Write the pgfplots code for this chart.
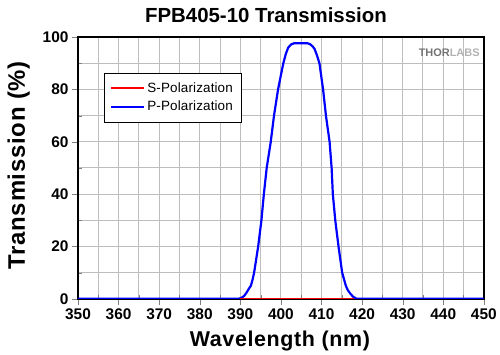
\documentclass[border=0pt]{standalone}
\usepackage{fontspec}
\setmainfont{Liberation Sans}
\newfontfamily\labfont[LetterSpace=3]{Liberation Sans}
\newfontfamily\legfont[LetterSpace=1]{Liberation Sans}
\usepackage{pgfplots}
\pgfplotsset{compat=1.18}
\begin{document}
\begin{tikzpicture}
\begin{axis}[
  scale only axis, width=407.4pt, height=262.7pt,
  at={(0pt,0pt)}, anchor=south west,
  xmin=350, xmax=450, ymin=0, ymax=100,
  xtick={350,360,...,450}, ytick={0,20,...,100},
  minor xtick={355,365,...,445}, minor ytick={10,30,...,90},
  grid=both,
  major grid style={draw=black!26, line width=1pt},
  minor grid style={draw=black!26, line width=1pt},
  xtick pos=left, ytick pos=left,
  tick align=outside, major tick length=6pt, minor tick length=4pt,
  minor x tick style={yshift=4pt}, minor y tick style={xshift=4pt},
  axis line style={line width=2pt},
  /pgf/number format/assume math mode=true,
  ticklabel style={font=\fontsize{15.5}{16}\selectfont\bfseries},
  legend style={at={(rel axis cs:0.063,0.864)}, anchor=north west,
    draw=black, fill=white,
    font=\legfont\fontsize{13.5}{14}\selectfont,
    inner xsep=6.5pt, inner ysep=7.5pt, row sep=3.5pt},
  legend cell align=left,
  legend image post style={xscale=1.94},
]
\addlegendimage{red, line width=2.2pt}
\addlegendentry{S-Polarization}
\addlegendimage{blue, line width=2.2pt}
\addlegendentry{P-Polarization}
\addplot[blue, line width=2.2pt, forget plot] table {
x y
350 0
389.5 0
390 0.2
390.5 0.6
391 1.2
391.5 2.3
392 3.6
392.6 5
393 7.2
393.4 10
393.9 15
394.4 20
394.8 25
395.2 30
395.8 40
396.5 50
397.5 60
398.3 70
399.3 80
400 85.5
400.6 90
401.2 93.5
401.8 96
402.5 97.2
403.3 97.7
406.5 97.7
407.2 97.3
407.8 96.5
408.3 95.5
408.9 93
409.5 90
410.4 80
411.1 70
412 60
412.5 50
412.8 40
413.4 30
414.2 20
415.1 10
416 5
416.5 3.3
417.1 2
417.8 0.8
418.7 0
450 0
};
\addplot[red, line width=2.2pt, forget plot] table {
x y
390 0
418 0
};
\end{axis}
\node[font=\fontsize{20.5}{21}\selectfont\bfseries, anchor=base] at (188.7pt,277.3pt) {FPB405-10 Transmission};
\node[font=\labfont\fontsize{21.5}{22}\selectfont\bfseries, anchor=base] at (202.7pt,-48.3pt) {Wavelength (nm)};
\node[font=\labfont\fontsize{24}{24}\selectfont\bfseries, anchor=base, rotate=90] at (-53.3pt,134pt) {Transmission (\%)};
\node[font=\fontsize{11}{11}\selectfont\bfseries, anchor=east, inner sep=0pt] at (403.4pt,247.5pt) {\textcolor{black!55}{THOR}\textcolor{black!30}{LABS}};
\path (-78.3pt,-55pt) rectangle (421.7pt,300pt);
\end{tikzpicture}
\end{document}
